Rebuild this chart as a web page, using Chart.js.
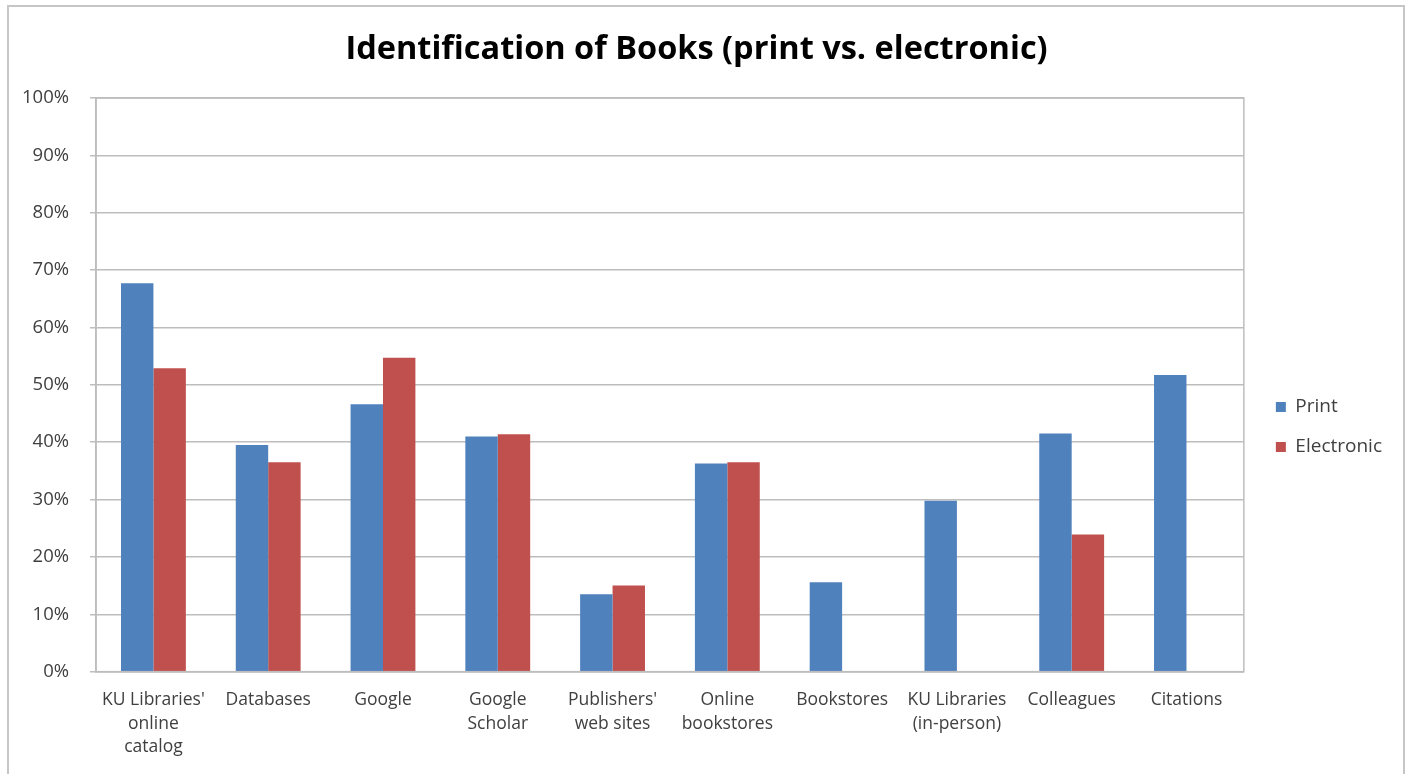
<!DOCTYPE html>
<html>
<head>
<meta charset="utf-8">
<script src="https://cdn.jsdelivr.net/npm/chart.js@4.4.1/dist/chart.umd.min.js"></script>
<style>
  html, body { margin: 0; padding: 0; background: #ffffff; }
  #wrap { position: relative; width: 1409px; height: 774px; }
</style>
</head>
<body>
<div id="wrap"><canvas id="c" width="1409" height="774"></canvas></div>
<script>
const chartTitle = "Identification of Books (print vs. electronic)";
const categories = [
  ["KU Libraries'", "online", "catalog"],
  ["Databases"],
  ["Google"],
  ["Google", "Scholar"],
  ["Publishers'", "web sites"],
  ["Online", "bookstores"],
  ["Bookstores"],
  ["KU Libraries", "(in-person)"],
  ["Colleagues"],
  ["Citations"]
];
const seriesNames = ["Print", "Electronic"];
const printValues = [67.7, 39.5, 46.6, 41.0, 13.5, 36.3, 15.6, 29.8, 41.5, 51.7];
const electronicValues = [52.9, 36.5, 54.7, 41.4, 15.0, 36.5, null, null, 23.9, null];
const yTicks = [0, 10, 20, 30, 40, 50, 60, 70, 80, 90, 100];

const FONT = "'Open Sans', Lato, sans-serif";
const TXT = "#404040";

const framePlugin = {
  id: 'frame',
  beforeDraw(chart) {
    const ctx = chart.ctx;
    ctx.save();
    ctx.strokeStyle = '#c6c6c6';
    ctx.lineWidth = 2;
    ctx.strokeRect(8, 6, 1396, 820);
    ctx.restore();
  },
  afterDatasetsDraw(chart) {
    const a = chart.chartArea;
    const ctx = chart.ctx;
    ctx.save();
    ctx.strokeStyle = '#bdbdbd';
    ctx.lineWidth = 1.5;
    ctx.strokeRect(a.left, a.top, a.right - a.left, a.bottom - a.top);
    ctx.restore();
  }
};

new Chart(document.getElementById('c'), {
  type: 'bar',
  data: {
    labels: categories,
    datasets: [
      { label: seriesNames[0], data: printValues, backgroundColor: '#4F81BD' },
      { label: seriesNames[1], data: electronicValues, backgroundColor: '#C0504D' }
    ]
  },
  options: {
    responsive: false,
    animation: false,
    devicePixelRatio: 1,
    datasets: { bar: { categoryPercentage: 0.565, barPercentage: 1.0 } },
    layout: { padding: { left: 1, right: 17, top: 0, bottom: -2 } },
    plugins: {
      title: {
        display: true,
        text: chartTitle,
        color: '#000000',
        font: { family: FONT, size: 32.5, weight: 'bold', lineHeight: 1.2 },
        padding: { top: 30.5, bottom: 28.5 }
      },
      legend: {
        position: 'right',
        title: { display: true, text: ' ', font: { size: 10, lineHeight: 1.2 }, padding: { top: 33, bottom: 33 } },
        labels: {
          color: TXT,
          font: { family: FONT, size: 19 },
          boxWidth: 10,
          boxHeight: 10,
          padding: 21
        }
      },
      tooltip: { enabled: false }
    },
    scales: {
      x: {
        grid: { display: false, drawTicks: false },
        border: { display: true, color: '#bdbdbd', width: 1.5 },
        ticks: {
          color: TXT,
          font: { family: FONT, size: 17.5, lineHeight: 1.34 },
          maxRotation: 0, minRotation: 0, autoSkip: false,
          padding: 17
        }
      },
      y: {
        min: 0, max: 100,
        afterBuildTicks(scale) { scale.ticks = yTicks.map(v => ({ value: v })); },
        grid: { color: '#bdbdbd', lineWidth: 1.5, tickLength: 6 },
        border: { display: true, color: '#bdbdbd', width: 1.5 },
        ticks: {
          color: TXT,
          font: { family: FONT, size: 18.5 },
          padding: 21,
          callback: v => v + '%'
        }
      },
      yR: {
        type: 'linear',
        position: 'right',
        display: true,
        grid: { display: false, drawTicks: false },
        border: { display: false },
        ticks: { display: false },
        afterFit(scale) { scale.width = 11; }
      }
    }
  },
  plugins: [framePlugin]
});
</script>
</body>
</html>
